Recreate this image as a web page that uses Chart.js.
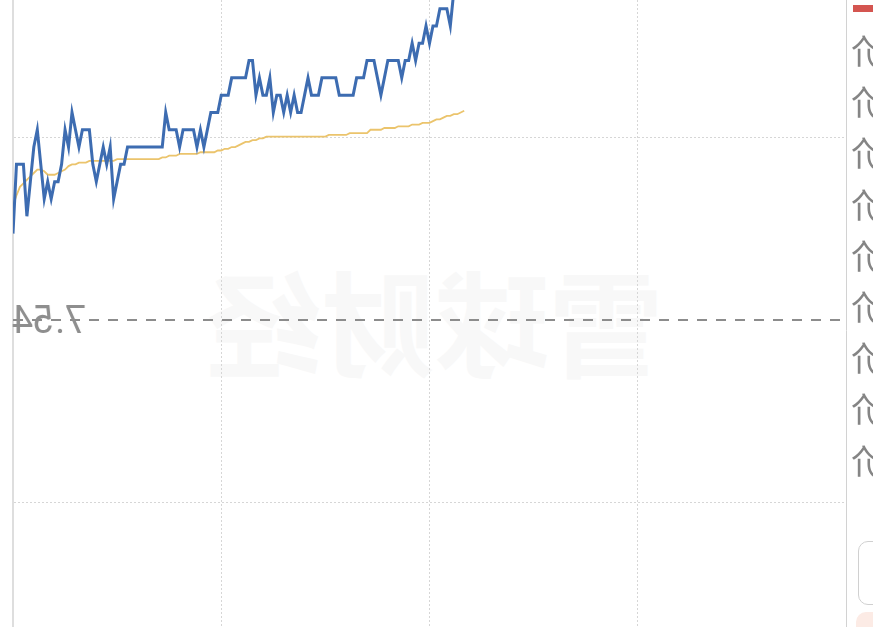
<!DOCTYPE html>
<html>
<head>
<meta charset="utf-8">
<script src="https://cdn.jsdelivr.net/npm/chart.js@4.4.1/dist/chart.umd.min.js"></script>
<style>
  html, body { margin: 0; padding: 0; background: #fff; overflow: hidden; }
  #wrap { position: absolute; left: 0; top: 0; width: 873px; height: 660px; }
  .mirror { position: absolute; transform: scaleX(-1); white-space: nowrap; line-height: 1; }
  #watermark { left: 207px; top: 236px; font: 700 114px "Noto Sans CJK SC", sans-serif; color: #f8f8f8; }
  #prevLabel { left: 12px; top: 298px; font: 400 38px Roboto, sans-serif; color: #8e8e8e; }
  .side { left: 851px; font: 34px "Noto Sans CJK SC", sans-serif; color: #858585; }
</style>
</head>
<body>
<div id="watermark" class="mirror">雪球财经</div>
<div id="wrap"><canvas id="chart"></canvas></div>
<div id="prevLabel" class="mirror">7.54</div>
<div id="sideCol"></div>
<div style="position:absolute;left:853px;top:5px;width:24px;height:7px;background:#d45550;"></div>
<div style="position:absolute;left:858px;top:541px;width:40px;height:62px;border:1.5px solid #d0d0d0;border-radius:10px;"></div>
<div style="position:absolute;left:856px;top:612px;width:40px;height:30px;background:#fcebe5;border-radius:10px;"></div>
<script>
// intraday minute prices (index 0 = first minute)
const priceData = [
  7.59, 7.63, 7.63, 7.63, 7.60, 7.62, 7.64, 7.65, 7.63, 7.61,
  7.62, 7.61, 7.62, 7.62, 7.63, 7.65, 7.64, 7.66, 7.65, 7.64,
  7.65, 7.65, 7.65, 7.63, 7.62, 7.63, 7.64, 7.63, 7.64, 7.61,
  7.62, 7.63, 7.63, 7.64, 7.64, 7.64, 7.64, 7.64, 7.64, 7.64,
  7.64, 7.64, 7.64, 7.64, 7.66, 7.65, 7.65, 7.65, 7.64, 7.65,
  7.65, 7.65, 7.65, 7.64, 7.65, 7.64, 7.65, 7.66, 7.66, 7.66,
  7.67, 7.67, 7.67, 7.68, 7.68, 7.68, 7.68, 7.68, 7.69, 7.69,
  7.67, 7.68, 7.67, 7.67, 7.68, 7.66, 7.67, 7.67, 7.66, 7.67,
  7.66, 7.67, 7.66, 7.66, 7.67, 7.68, 7.67, 7.67, 7.67, 7.68,
  7.68, 7.68, 7.68, 7.68, 7.67, 7.67, 7.67, 7.67, 7.67, 7.68,
  7.68, 7.68, 7.69, 7.69, 7.69, 7.68, 7.67, 7.68, 7.69, 7.69,
  7.69, 7.69, 7.68, 7.69, 7.69, 7.70, 7.69, 7.70, 7.70, 7.71,
  7.70, 7.71, 7.71, 7.72, 7.72, 7.72, 7.71, 7.73, 7.75, 7.74,
  7.75
];

// running average price line
const avgData = [
  7.606, 7.612, 7.617, 7.619, 7.621, 7.623, 7.625, 7.627, 7.627, 7.626,
  7.624, 7.624, 7.624, 7.625, 7.626, 7.627, 7.629, 7.630, 7.630, 7.631,
  7.631, 7.631, 7.632, 7.632, 7.632, 7.632, 7.632, 7.632, 7.632, 7.632,
  7.633, 7.633, 7.633, 7.633, 7.633, 7.633, 7.633, 7.633, 7.633, 7.633,
  7.633, 7.633, 7.633, 7.634, 7.634, 7.635, 7.635, 7.635, 7.636, 7.636,
  7.636, 7.636, 7.636, 7.636, 7.637, 7.637, 7.637, 7.637, 7.637, 7.638,
  7.638, 7.639, 7.639, 7.640, 7.640, 7.641, 7.642, 7.643, 7.643, 7.644,
  7.644, 7.645, 7.645, 7.646, 7.646, 7.646, 7.646, 7.646, 7.646, 7.646,
  7.646, 7.646, 7.646, 7.646, 7.646, 7.646, 7.646, 7.646, 7.646, 7.646,
  7.646, 7.647, 7.647, 7.647, 7.647, 7.647, 7.647, 7.648, 7.648, 7.648,
  7.648, 7.648, 7.648, 7.650, 7.650, 7.650, 7.650, 7.651, 7.651, 7.651,
  7.651, 7.652, 7.652, 7.652, 7.652, 7.653, 7.653, 7.653, 7.654, 7.654,
  7.654, 7.655, 7.656, 7.656, 7.657, 7.658, 7.658, 7.659, 7.659, 7.660,
  7.661
];

const prevClose = 7.54;
const gridPrices = [7.6458, 7.4345];   // dotted price gridlines
const timeTicks = [60, 120, 180];      // dotted time gridlines (minute index)
const lastMinute = 240;
const priceMax = 7.725;
const priceMin = 7.3435;
const sideLabels = ['价', '价', '价', '价', '价', '价', '价', '价', '价'];

// mirrored side column labels
const sideCol = document.getElementById('sideCol');
sideLabels.forEach((t, i) => {
    const d = document.createElement('div');
    d.className = 'mirror side';
    d.style.top = (25 + i * 51.2) + 'px';
    d.textContent = t;
    sideCol.appendChild(d);
});

const toPoints = arr => arr.map((v, i) => ({ x: i, y: v }));

const ctx = document.getElementById('chart').getContext('2d');
new Chart(ctx, {
    type: 'line',
    data: {
        datasets: [
            {
                label: '价格',
                data: toPoints(priceData),
                borderColor: '#3d6cb1',
                borderWidth: 3,
                pointRadius: 0,
                tension: 0,
            },
            {
                label: '均价',
                data: toPoints(avgData),
                borderColor: '#ebc46c',
                borderWidth: 1.8,
                pointRadius: 0,
                tension: 0,
            },
            {
                label: '昨收',
                data: [{ x: 0, y: prevClose }, { x: lastMinute, y: prevClose }],
                borderColor: '#8c8c8c',
                borderWidth: 2,
                borderDash: [10, 9],
                pointRadius: 0,
            },
        ],
    },
    options: {
        responsive: true,
        maintainAspectRatio: false,
        animation: false,
        layout: { padding: { left: 13, right: 27, top: 0, bottom: 0 } },
        plugins: { legend: { display: false }, tooltip: { enabled: false } },
        scales: {
            x: {
                type: 'linear',
                min: 0,
                max: lastMinute,
                afterBuildTicks: axis => { axis.ticks = timeTicks.map(v => ({ value: v })); },
                ticks: { display: false },
                grid: { color: '#d6d6d6', lineWidth: 1, drawTicks: false },
                border: { display: false, dash: [2, 2] },
            },
            y: {
                min: priceMin,
                max: priceMax,
                afterBuildTicks: axis => { axis.ticks = gridPrices.map(v => ({ value: v })); },
                ticks: { display: false },
                grid: { color: '#d6d6d6', lineWidth: 1, drawTicks: false },
                border: { display: true, color: '#dedede', width: 2, dash: [2, 2] },
            },
            yr: {
                position: 'right',
                min: priceMin,
                max: priceMax,
                ticks: { display: false },
                grid: { display: false, drawTicks: false },
                border: { display: true, color: '#d2d2d2', width: 1 },
            },
        },
    },
});
</script>
</body>
</html>
